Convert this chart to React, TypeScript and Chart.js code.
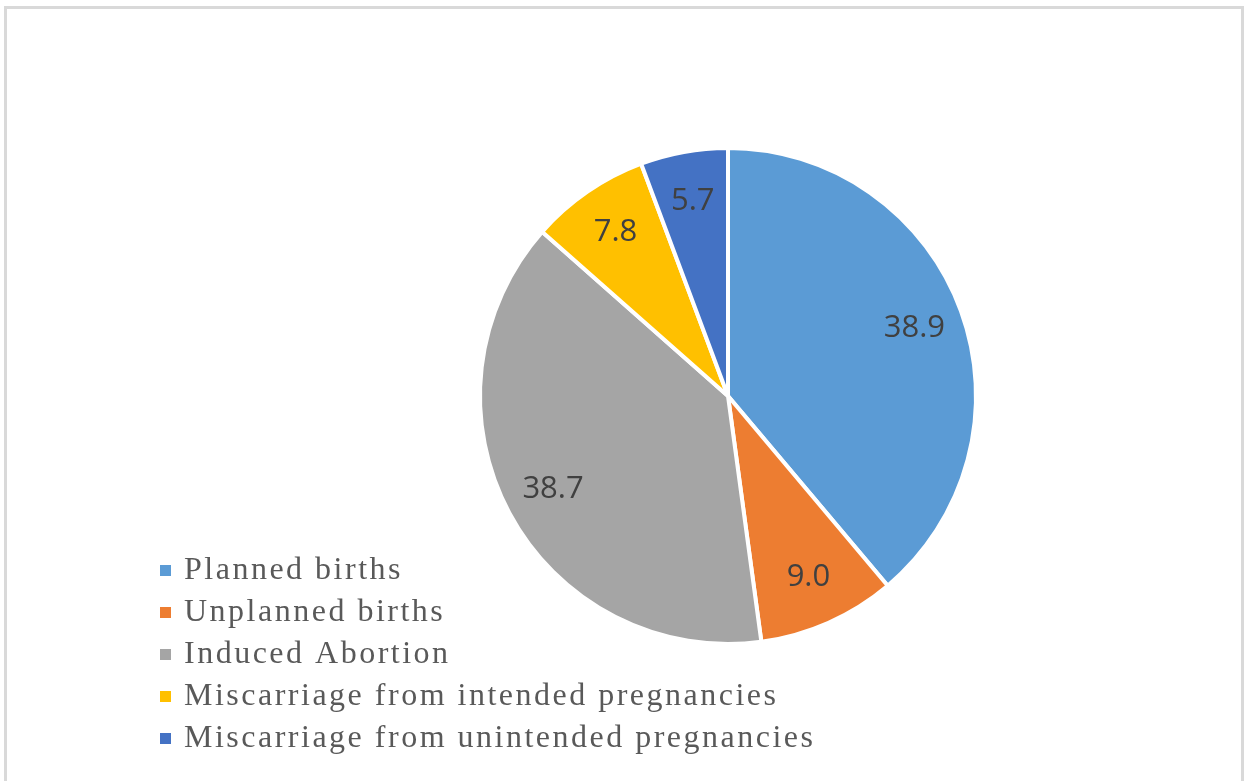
import React, { useEffect, useRef } from "react";
import { Chart, registerables } from "chart.js";

Chart.register(...registerables);

const categories = [
  "Planned births",
  "Unplanned births",
  "Induced Abortion",
  "Miscarriage from intended pregnancies",
  "Miscarriage from unintended pregnancies",
];
const values = [38.9, 9.0, 38.7, 7.8, 5.7];
const colors = ["#5b9bd5", "#ed7d31", "#a5a5a5", "#ffc000", "#4472c4"];

const sliceLabels = {
  id: "sliceLabels",
  afterDatasetsDraw(chart: any) {
    const ctx = chart.ctx;
    const meta = chart.getDatasetMeta(0);
    const data = chart.data.datasets[0].data as number[];
    ctx.save();
    ctx.font = "31px 'Open Sans'";
    ctx.fillStyle = "#404040";
    ctx.textAlign = "center";
    ctx.textBaseline = "middle";
    meta.data.forEach((arc: any, i: number) => {
      const p = arc.getProps(["x", "y", "startAngle", "endAngle", "outerRadius"], true);
      const mid = (p.startAngle + p.endAngle) / 2;
      const r = p.outerRadius * 0.8;
      ctx.fillText(data[i].toFixed(1), p.x + Math.cos(mid) * r, p.y + Math.sin(mid) * r);
    });
    ctx.restore();
  },
};

const serifLegend = {
  id: "serifLegend",
  afterDraw(chart: any) {
    const ctx = chart.ctx;
    const labels = chart.data.labels as string[];
    const bg = chart.data.datasets[0].backgroundColor as string[];
    ctx.save();
    ctx.font = "32px 'Liberation Serif'";
    (ctx as any).letterSpacing = "2.5px";
    ctx.textAlign = "left";
    ctx.textBaseline = "alphabetic";
    labels.forEach((lab, i) => {
      const base = 579 + i * 42;
      ctx.fillStyle = bg[i];
      ctx.fillRect(160, base - 14, 11, 11);
      ctx.fillStyle = "#595959";
      ctx.fillText(lab, 184, base);
    });
    ctx.restore();
  },
};

export default function App() {
  const ref = useRef<HTMLCanvasElement>(null);
  useEffect(() => {
    if (!ref.current) return;
    const chart = new Chart(ref.current, {
      type: "pie",
      data: {
        labels: categories,
        datasets: [
          {
            data: values,
            backgroundColor: colors,
            borderColor: "#ffffff",
            borderWidth: 4,
          },
        ],
      },
      options: {
        animation: false,
        responsive: false,
        maintainAspectRatio: false,
        layout: { padding: { left: 478, right: 270, top: 145, bottom: 134 } },
        plugins: {
          legend: { display: false },
          tooltip: { enabled: false },
          title: { display: false },
        },
      },
      plugins: [sliceLabels, serifLegend],
    });
    return () => chart.destroy();
  }, []);
  return (
    <div style={{ position: "fixed", left: 0, top: 0, width: 1248, height: 781, background: "#fff", overflow: "hidden" }}>
      <div
        style={{
          position: "absolute",
          left: 4,
          top: 6,
          width: 1240,
          height: 800,
          border: "3px solid #d9d9d9",
          boxSizing: "border-box",
        }}
      />
      <canvas ref={ref} width={1248} height={781} style={{ position: "absolute", left: 0, top: 0 }} />
    </div>
  );
}
